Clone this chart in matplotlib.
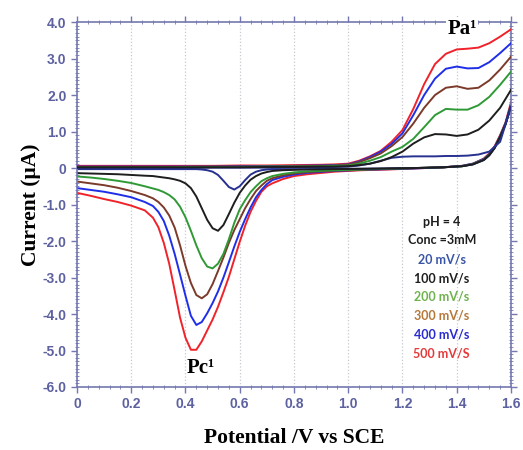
import numpy as np
import matplotlib.pyplot as plt
from matplotlib.ticker import MultipleLocator

# scan rates, colours
rates = ["20 mV/s", "100 mV/s", "200 mV/s", "300 mV/s", "400 mV/s", "500 mV/S"]
line_colors = ["#27318f", "#1e1e1e", "#2f9a35", "#7b3a2a", "#1f2ee8", "#f0222a"]
text_colors = ["#3a56a8", "#1e1e1e", "#6fb24e", "#b5783a", "#2a2ad0", "#e43a3a"]

# forward (anodic) sweep, 0 -> 1.6 V
E_fwd = [0.0, 0.1, 0.2, 0.3, 0.4, 0.5, 0.6, 0.7, 0.8, 0.9, 0.95, 1.0, 1.04, 1.08,
         1.12, 1.16, 1.2, 1.24, 1.28, 1.32, 1.36, 1.4, 1.44, 1.48, 1.52, 1.56, 1.6]
I_fwd = {
    "20 mV/s":  [0.0, 0.0, 0.0, 0.0, 0.0, 0.01, 0.01, 0.01, 0.02, 0.02, 0.03, 0.04, 0.07, 0.12,
                 0.2, 0.28, 0.31, 0.32, 0.32, 0.32, 0.33, 0.33, 0.34, 0.37, 0.45, 0.72, 1.68],
    "100 mV/s": [0.02, 0.02, 0.02, 0.02, 0.02, 0.02, 0.02, 0.03, 0.03, 0.04, 0.04, 0.05, 0.08, 0.12,
                 0.19, 0.3, 0.45, 0.67, 0.84, 0.93, 0.92, 0.88, 0.92, 1.05, 1.3, 1.65, 2.14],
    "200 mV/s": [0.02, 0.02, 0.02, 0.02, 0.03, 0.03, 0.03, 0.04, 0.04, 0.05, 0.06, 0.07, 0.12, 0.2,
                 0.3, 0.45, 0.58, 0.8, 1.12, 1.45, 1.62, 1.6, 1.6, 1.72, 1.95, 2.28, 2.64],
    "300 mV/s": [0.03, 0.03, 0.03, 0.03, 0.03, 0.04, 0.04, 0.04, 0.05, 0.06, 0.07, 0.09, 0.16, 0.27,
                 0.4, 0.6, 0.85, 1.22, 1.65, 2.0, 2.2, 2.24, 2.17, 2.2, 2.4, 2.7, 3.05],
    "400 mV/s": [0.04, 0.04, 0.04, 0.04, 0.04, 0.04, 0.05, 0.05, 0.06, 0.07, 0.08, 0.1, 0.18, 0.3,
                 0.45, 0.66, 0.95, 1.45, 2.0, 2.45, 2.72, 2.78, 2.73, 2.74, 2.9, 3.15, 3.42],
    "500 mV/S": [0.06, 0.06, 0.06, 0.06, 0.06, 0.06, 0.07, 0.07, 0.08, 0.09, 0.1, 0.12, 0.2, 0.32,
                 0.47, 0.72, 1.04, 1.62, 2.3, 2.85, 3.13, 3.25, 3.27, 3.3, 3.42, 3.6, 3.8],
}

# reverse (cathodic) sweep, 1.6 -> 0 V
E_rev = [1.6, 1.58, 1.56, 1.54, 1.52, 1.5, 1.46, 1.42, 1.35, 1.25, 1.15, 1.05, 0.95, 0.85,
         0.8, 0.76, 0.72, 0.7, 0.68, 0.66, 0.64, 0.62, 0.6, 0.58, 0.56, 0.54, 0.52, 0.5,
         0.48, 0.46, 0.44, 0.42, 0.4, 0.38, 0.36, 0.34, 0.32, 0.3, 0.28, 0.25, 0.2, 0.15,
         0.1, 0.05, 0.0]
I_rev = {
    "20 mV/s":  [1.68, 1.2, 0.85, 0.55, 0.35, 0.22, 0.1, 0.05, 0.02, 0.0, -0.01, -0.02, -0.02, -0.03,
                 -0.03, -0.03, -0.03, -0.04, -0.06, -0.1, -0.18, -0.33, -0.5, -0.59, -0.52, -0.35, -0.19, -0.1,
                 -0.06, -0.04, -0.03, -0.03, -0.03, -0.03, -0.03, -0.03, -0.03, -0.03, -0.03, -0.03, -0.03, -0.03,
                 -0.03, -0.03, -0.03],
    "100 mV/s": [1.7, 1.2, 0.85, 0.55, 0.35, 0.22, 0.1, 0.05, 0.02, 0.0, -0.01, -0.02, -0.03, -0.04,
                 -0.05, -0.06, -0.08, -0.11, -0.15, -0.22, -0.32, -0.48, -0.68, -0.95, -1.26, -1.56, -1.72, -1.65,
                 -1.42, -1.1, -0.78, -0.55, -0.42, -0.35, -0.31, -0.28, -0.26, -0.24, -0.22, -0.21, -0.19, -0.17,
                 -0.16, -0.15, -0.14],
    "200 mV/s": [1.7, 1.22, 0.86, 0.56, 0.36, 0.23, 0.11, 0.05, 0.02, 0.0, -0.02, -0.04, -0.06, -0.09,
                 -0.12, -0.16, -0.22, -0.28, -0.36, -0.5, -0.66, -0.88, -1.13, -1.5, -1.95, -2.35, -2.62, -2.75,
                 -2.7, -2.47, -2.12, -1.72, -1.35, -1.06, -0.86, -0.74, -0.66, -0.6, -0.56, -0.5, -0.41, -0.35,
                 -0.3, -0.26, -0.23],
    "300 mV/s": [1.72, 1.22, 0.87, 0.57, 0.37, 0.24, 0.11, 0.05, 0.02, 0.0, -0.02, -0.05, -0.07, -0.11,
                 -0.15, -0.2, -0.28, -0.35, -0.48, -0.63, -0.85, -1.1, -1.4, -1.7, -2.05, -2.45, -2.82, -3.18,
                 -3.46, -3.57, -3.48, -3.15, -2.68, -2.12, -1.63, -1.3, -1.08, -0.93, -0.83, -0.74, -0.63, -0.54,
                 -0.47, -0.42, -0.37],
    "400 mV/s": [1.74, 1.23, 0.88, 0.58, 0.38, 0.25, 0.12, 0.06, 0.02, -0.01, -0.03, -0.05, -0.08, -0.13,
                 -0.18, -0.24, -0.33, -0.44, -0.6, -0.8, -1.08, -1.4, -1.75, -2.15, -2.58, -3.0, -3.38, -3.7,
                 -3.98, -4.22, -4.3, -4.05, -3.5, -2.92, -2.35, -1.85, -1.45, -1.2, -1.04, -0.93, -0.8, -0.72,
                 -0.65, -0.6, -0.55],
    "500 mV/S": [1.8, 1.25, 0.9, 0.6, 0.4, 0.26, 0.12, 0.06, 0.02, -0.01, -0.04, -0.06, -0.1, -0.17,
                 -0.22, -0.3, -0.42, -0.5, -0.65, -0.9, -1.2, -1.58, -2.02, -2.5, -2.98, -3.4, -3.8, -4.15,
                 -4.45, -4.75, -4.98, -4.98, -4.65, -4.1, -3.35, -2.62, -2.05, -1.62, -1.36, -1.16, -1.03, -0.93,
                 -0.85, -0.76, -0.68],
}

notes = ["pH = 4", "Conc =3mM"]

axis_col = "#7378b0"
tick_col = "#5d61a0"

fig = plt.figure(figsize=(5.23, 4.5), dpi=100)
ax = fig.add_axes([0.1472, 0.14, 0.8298, 0.811])

# draw high scan rates first so the slow ones sit on top of the common baseline
order = [5, 4, 3, 2, 0, 1]
for i in order:
    r = rates[i]
    ax.plot(E_rev, I_rev[r], color=line_colors[i], lw=1.4, zorder=2, solid_joinstyle="round")
for i in order:
    r = rates[i]
    ax.plot(E_fwd, I_fwd[r], color=line_colors[i], lw=1.4, zorder=3, solid_joinstyle="round")

ax.set_xlim(0, 1.6)
ax.set_ylim(-6, 4)

xt = [0, 0.2, 0.4, 0.6, 0.8, 1.0, 1.2, 1.4, 1.6]
xt_lab = ["0", "0.2", "0.4", "0.6", "0.8", "1.0", "1.2", "1.4", "1.6"]
yt = [4, 3, 2, 1, 0, -1, -2, -3, -4, -5, -6]
yt_lab = ["4.0", "3.0", "2.0", "1.0", "0", "-1.0", "-2.0", "-3.0", "-4.0", "-5.0", "-6.0"]
ax.set_xticks(xt)
ax.set_xticklabels(xt_lab)
ax.set_yticks(yt)
ax.set_yticklabels(yt_lab)
ax.xaxis.set_minor_locator(MultipleLocator(0.04))
ax.yaxis.set_minor_locator(MultipleLocator(0.1))

ax.tick_params(which="major", direction="out", length=4, width=1, color=axis_col,
               labelcolor=tick_col, labelsize=10, top=True, right=True)
ax.tick_params(which="minor", direction="inout", length=3, width=0.6, color=axis_col,
               top=True, right=True)
for lab in ax.get_xticklabels() + ax.get_yticklabels():
    lab.set_family("Liberation Sans")
    lab.set_fontweight("bold")
for s in ax.spines.values():
    s.set_color(axis_col)
    s.set_linewidth(1.2)

ax.grid(axis="x", color="#c8c8d0", linestyle=":", linewidth=0.9)
ax.set_axisbelow(True)

ax.set_xlabel("Potential /V vs SCE", family="Liberation Serif", fontweight="bold",
              fontsize=15.5, labelpad=12)
ax.set_ylabel("Current (\u03bcA)", family="Liberation Serif", fontweight="bold",
              fontsize=15.5, labelpad=1)

ax.text(1.42, 3.82, "Pa\u00b9", family="Liberation Serif", fontweight="bold", fontsize=15,
        ha="center", va="center", zorder=5,
        bbox=dict(facecolor="white", edgecolor="none", pad=1), clip_on=False)
ax.text(0.455, -5.48, "Pc\u00b9", family="Liberation Serif", fontweight="bold", fontsize=15,
        ha="center", va="center", zorder=5)

legend_lines = notes + rates
legend_cols = ["#1e1e1e", "#1e1e1e"] + text_colors
for k, (t, c) in enumerate(zip(legend_lines, legend_cols)):
    ax.text(1.345, -1.47 - k * 0.515, t, color=c, family="Lato", fontweight="bold",
            fontsize=9, ha="center", va="center")

fig.savefig("out.png", dpi=100)
